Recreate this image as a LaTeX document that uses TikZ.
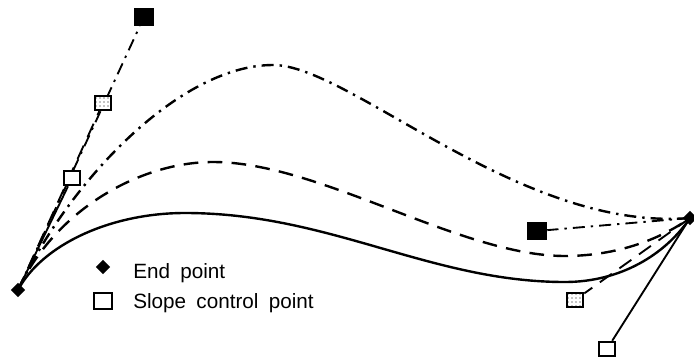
\documentclass[tikz,border=0pt]{standalone}
\usepackage{fontspec}
\setmainfont{Liberation Sans}
\usetikzlibrary{shapes.geometric,patterns,backgrounds,positioning}

\newcommand\legfont{\fontsize{15.5}{18}\selectfont\spaceskip=0.5em\relax}
\tikzset{
  endpt/.style={diamond,fill,inner sep=0pt,minimum size=11pt},
  slopebox/.style={rectangle,draw,line width=1.4pt,fill=white,inner sep=0pt,
    minimum width=12.5pt,minimum height=11pt},
  hatchbox/.style={slopebox,postaction={pattern=dots}},
  fullbox/.style={slopebox,fill=black,minimum width=14pt,minimum height=12.5pt},
  dashcurve/.style={dash pattern=on 11pt off 7pt},
  dotcurve/.style={dash pattern=on 9pt off 4.5pt on 1.8pt off 4.5pt},
  legtext/.style={anchor=base west,inner sep=0pt,font=\legfont}
}

\begin{document}
\begin{tikzpicture}[x=0.75pt,y=-0.75pt]
 \useasboundingbox (0,0) rectangle (694,358);
 % end points and slope control points
 \node[endpt] (p0) at (18,290) {};
 \node[endpt] (p1) at (690,218) {};
 \node[slopebox] (a0) at (72,178) {};
 \node[slopebox] (a1) at (607,349) {};
 \node[hatchbox] (b0) at (103,103) {};
 \node[hatchbox] (b1) at (575,300) {};
 \node[fullbox] (c0) at (144,17) {};
 \node[fullbox] (c1) at (537,231) {};
 \begin{pgfonlayer}{background}
 \draw[line width=1.4pt] (p0.center)--(a0) (p1.center)--(a1);
 \draw[line width=1.4pt,dashcurve] (p0.center)--(b0) (p1.center)--(b1);
 \draw[line width=1.4pt,dotcurve] (p0.center)--(c0) (p1.center)--(c1);
 \end{pgfonlayer}
 % the three curves
 \draw[line width=1.8pt] (p0.center) .. controls (42,245) and (110,213) .. (185,213)
   .. controls (330,213) and (430,282) .. (565,282)
   .. controls (620,282) and (665,255) .. (p1.center);
 \draw[line width=1.8pt,dashcurve] (p0.center) .. controls (55,210) and (140,162) .. (213,162)
   .. controls (320,162) and (460,256) .. (565,256)
   .. controls (610,256) and (655,243) .. (p1.center);
 \draw[line width=1.8pt,dotcurve] (p0.center) .. controls (69,181) and (180,65) .. (273,65)
   .. controls (350,65) and (520,232) .. (p1.center);
 % legend
 \node[endpt] (ld) at (103,267) {};
 \node[slopebox,minimum width=13.5pt,minimum height=12pt] (ls) at (103,301) {};
 \node[legtext] (lt1) at (133,278) {End point};
 \node[legtext] (lt2) at (133,308) {Slope control point};
\end{tikzpicture}
\end{document}
